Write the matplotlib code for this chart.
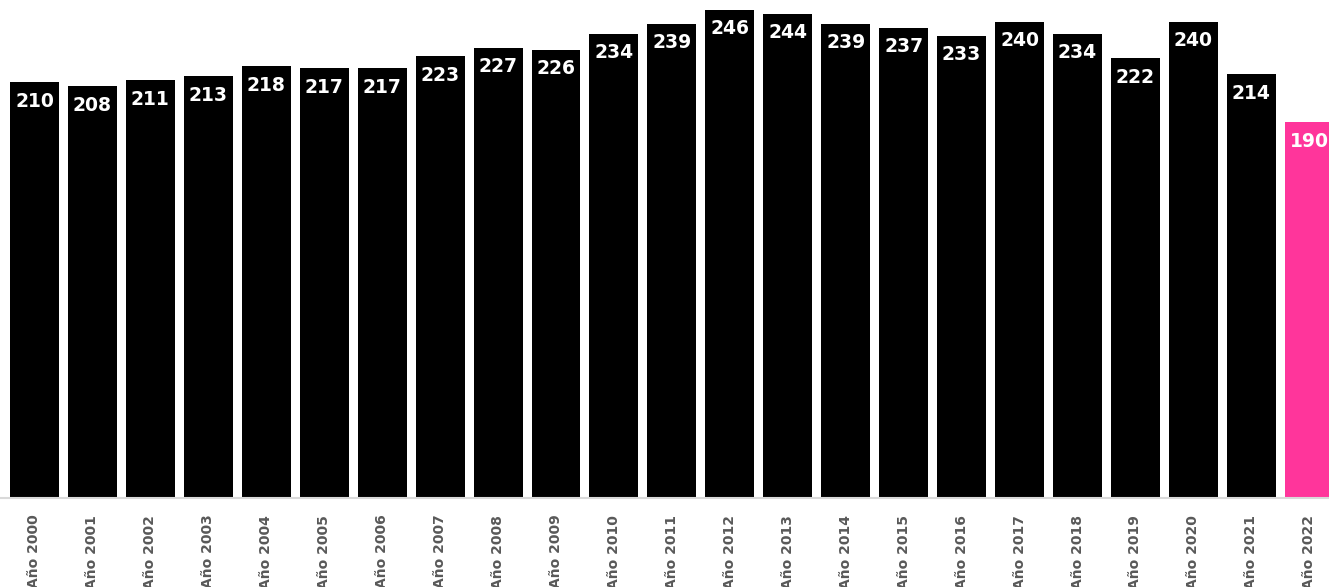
import matplotlib.pyplot as plt

# data
years = list(range(2000, 2023))
labels = [f"Año {y}" for y in years]
values = [210, 208, 211, 213, 218, 217, 217, 223, 227, 226, 234, 239, 246,
          244, 239, 237, 233, 240, 234, 222, 240, 214, 190]

colors = ["#000000"] * (len(values) - 1) + ["#FF359B"]

fig = plt.figure(figsize=(13.29, 5.87), dpi=100)
ax = fig.add_axes([0.0, 1 - 498 / 587, 1.0, 498 / 587])

x = list(range(len(values)))
ax.bar(x, values, width=0.845, color=colors)

for xi, v in zip(x, values):
    ax.text(xi, v - 9.5, str(v), ha="center", va="center", color="white",
            fontsize=13.5, fontweight="bold", family="DejaVu Sans")

ax.set_xlim(-0.595, 22.34)
ax.set_ylim(2, 251)

ax.set_xticks(x)
ax.set_xticklabels(labels, rotation=90, fontsize=10, fontweight="bold",
                   color="#595959", family="DejaVu Sans")
ax.tick_params(axis="x", length=0, pad=12)
ax.set_yticks([])

for s in ["top", "right", "left"]:
    ax.spines[s].set_visible(False)
ax.spines["bottom"].set_color("#d9d9d9")
ax.spines["bottom"].set_linewidth(1.5)

fig.savefig("out.png", dpi=100)
